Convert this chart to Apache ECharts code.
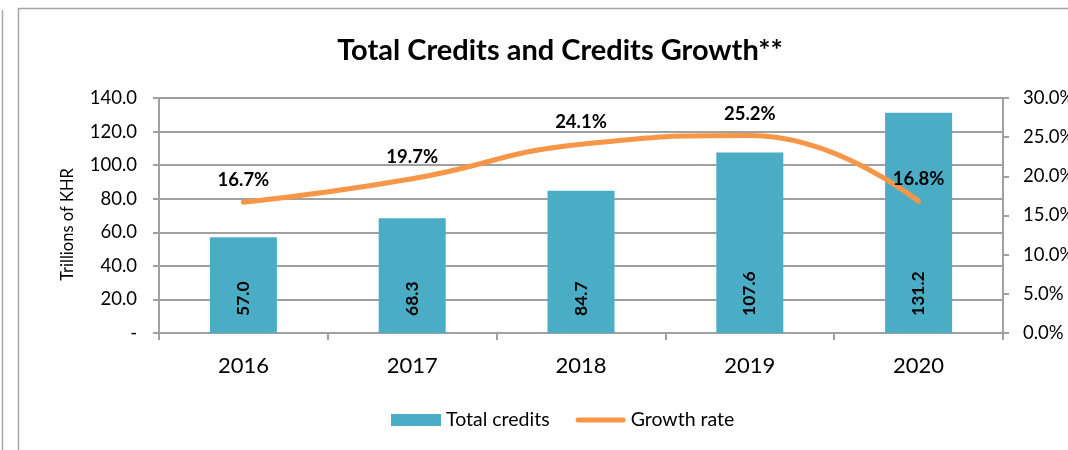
<!DOCTYPE html>
<html>
<head>
<meta charset="utf-8">
<script src="https://cdn.jsdelivr.net/npm/echarts@6/dist/echarts.min.js"></script>
<style>html,body{margin:0;padding:0;background:#fff}#c{width:1068px;height:450px}</style>
</head>
<body>
<div id="c"></div>
<script>
const categories = ['2016', '2017', '2018', '2019', '2020'];
const totalCredits = [57.0, 68.3, 84.7, 107.6, 131.2];
const growthRate = [16.7, 19.7, 24.1, 25.2, 16.8];
const leftTicks = { min: 0, max: 140, interval: 20 };
const rightTicks = { min: 0, max: 30, interval: 5 };

const FONT = 'Lato, "Open Sans", sans-serif';
const chart = echarts.init(document.getElementById('c'), null, { renderer: 'canvas' });
chart.setOption({
  animation: false,
  backgroundColor: '#fff',
  textStyle: { fontFamily: FONT, color: '#000' },
  title: {
    text: 'Total Credits and Credits Growth**',
    left: 555, top: 31, textAlign: 'center',
    textStyle: { fontFamily: FONT, fontSize: 29, fontWeight: 'bold', color: '#000' }
  },
  graphic: [
    { type: 'rect', shape: { x: 18.5, y: 8.5, width: 1200, height: 600 }, style: { fill: 'none', stroke: '#A6A6A6', lineWidth: 1.5 }, silent: true },
    { type: 'line', shape: { x1: 2.5, y1: 10, x2: 2.5, y2: 450 }, style: { stroke: '#A6A6A6', lineWidth: 1.5 }, silent: true }
  ],
  legend: {
    bottom: 15, left: 386,
    itemWidth: 50, itemHeight: 12, itemGap: 26,
    textStyle: { fontFamily: FONT, fontSize: 19.5, color: '#000' },
    data: [
      { name: 'Total credits', icon: 'rect' },
      { name: 'Growth rate', icon: 'path://M0,0M2.5,3.5L47.5,3.5A2.5,2.5,0,0,1,47.5,8.5L2.5,8.5A2.5,2.5,0,0,1,2.5,3.5ZM50,12' }
    ]
  },
  grid: { left: 159, right: 65, top: 98, bottom: 117, outerBoundsMode: 'none', containLabel: false },
  xAxis: {
    type: 'category', data: categories,
    axisLine: { lineStyle: { color: '#A0A0A0', width: 2 } },
    axisTick: { show: true, length: 7, lineStyle: { color: '#A0A0A0', width: 2 } },
    axisLabel: { fontFamily: FONT, fontSize: 22, color: '#000', margin: 22 }
  },
  yAxis: [
    {
      type: 'value', min: leftTicks.min, max: leftTicks.max, interval: leftTicks.interval,
      name: 'Trillions of KHR', nameLocation: 'middle', nameGap: 83,
      nameTextStyle: { fontFamily: FONT, fontSize: 16.5, color: '#000', padding: [0, 18, 0, 0] },
      axisLine: { show: true, lineStyle: { color: '#A0A0A0', width: 2 } },
      axisTick: { show: true, length: 6, lineStyle: { color: '#A0A0A0', width: 2 } },
      axisLabel: { fontFamily: FONT, fontSize: 18.5, color: '#000', margin: 22,
        formatter: v => v === 0 ? '-' : v.toFixed(1) },
      splitLine: { show: true, lineStyle: { color: '#A0A0A0', width: 2 } }
    },
    {
      type: 'value', min: rightTicks.min, max: rightTicks.max, interval: rightTicks.interval,
      position: 'right',
      axisLine: { show: true, lineStyle: { color: '#A0A0A0', width: 2 } },
      axisTick: { show: true, length: 6, lineStyle: { color: '#A0A0A0', width: 2 } },
      axisLabel: { fontFamily: FONT, fontSize: 18.5, color: '#000', margin: 20,
        formatter: v => v.toFixed(1) + '%' },
      splitLine: { show: false }
    }
  ],
  series: [
    {
      name: 'Total credits', type: 'bar', data: totalCredits, barWidth: 67,
      itemStyle: { color: '#4BACC6' },
      label: {
        show: true, position: 'insideBottom', distance: 17, rotate: 90,
        align: 'left', verticalAlign: 'middle',
        fontFamily: FONT, fontSize: 17.5, fontWeight: 'bold', color: '#000',
        formatter: p => p.value.toFixed(1)
      }
    },
    {
      name: 'Growth rate', type: 'line', yAxisIndex: 1, data: growthRate,
      smooth: 0.5, symbol: 'circle', symbolSize: 1, showSymbol: true,
      lineStyle: { color: '#F79646', width: 5, cap: 'round' },
      itemStyle: { color: '#F79646' },
      label: {
        show: true, position: 'top', distance: 12,
        fontFamily: FONT, fontSize: 18.5, fontWeight: 'bold', color: '#000',
        formatter: p => p.value.toFixed(1) + '%'
      }
    }
  ]
});
</script>
</body>
</html>
